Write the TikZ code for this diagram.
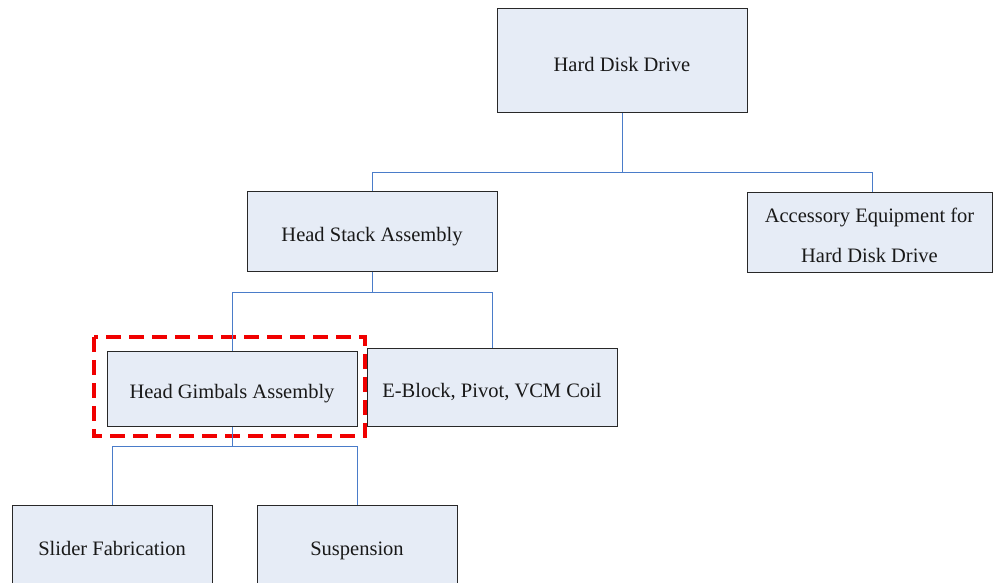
\documentclass[tikz,border=0pt]{standalone}
\usepackage{fontspec}
\setmainfont{Liberation Serif}
\definecolor{boxfill}{RGB}{230,236,246}
\definecolor{boxline}{RGB}{40,40,40}
\definecolor{linkblue}{RGB}{74,124,201}
\definecolor{hilite}{RGB}{240,0,0}
\begin{document}
\begin{tikzpicture}[x=1pt,y=-1pt,
  part/.style={draw=boxline,fill=boxfill,line width=1pt,inner sep=0pt,
    font=\fontsize{20.5}{40}\selectfont,text=black!90,align=center,
    text height=23.5pt,text depth=3pt},
  caption/.style={inner sep=0pt,font=\fontsize{20.5}{40}\selectfont,
    text=black!90,align=center},
  link/.style={draw=linkblue,line width=1pt},
  focus/.style={draw=hilite,line width=3.8pt,dash pattern=on 15pt off 8pt}]
\useasboundingbox (0,0) rectangle (993,583);

% top level
\node[part,minimum width=250,minimum height=104] (hdd) at (622,61) {Hard Disk Drive};

% second level
\node[part,minimum width=250,minimum height=80] (hsa) at (372,231) {Head Stack Assembly};
\node[part,minimum width=245,minimum height=80] (acc) at (869.5,232) {};
\node[caption] (acctext) at (869.5,235) {Accessory Equipment for\\Hard Disk Drive};

% third level
\node[part,minimum width=250,minimum height=75] (hga) at (232,388.5) {Head Gimbals Assembly};
\node[part,minimum width=250,minimum height=78] (eblk) at (492,387) {E-Block, Pivot, VCM Coil};

% fourth level (running off the lower edge)
\node[part,minimum width=200,minimum height=80] (slider) at (112,545) {Slider Fabrication};
\node[part,minimum width=200,minimum height=80] (susp) at (357,545) {Suspension};

% highlight around the head gimbals assembly
\draw[focus] (94,337) rectangle (365,436);

% tree connectors
\coordinate (b1) at (622,172);
\coordinate (b2) at (372,292);
\coordinate (b3) at (232,446);
\draw[link] (hdd.south) -- (b1);
\draw[link] (hsa.north) -- (hsa.north |- b1) -- ([xshift=2.5pt]acc.north |- b1) -- ([xshift=2.5pt]acc.north);
\draw[link] (hsa.south) -- (b2);
\draw[link] (hga.north) -- (hga.north |- b2) -- (eblk.north |- b2) -- (eblk.north);
\draw[link] (hga.south) -- (b3);
\draw[link] (slider.north) -- (slider.north |- b3) -- (susp.north |- b3) -- (susp.north);
\end{tikzpicture}
\end{document}
